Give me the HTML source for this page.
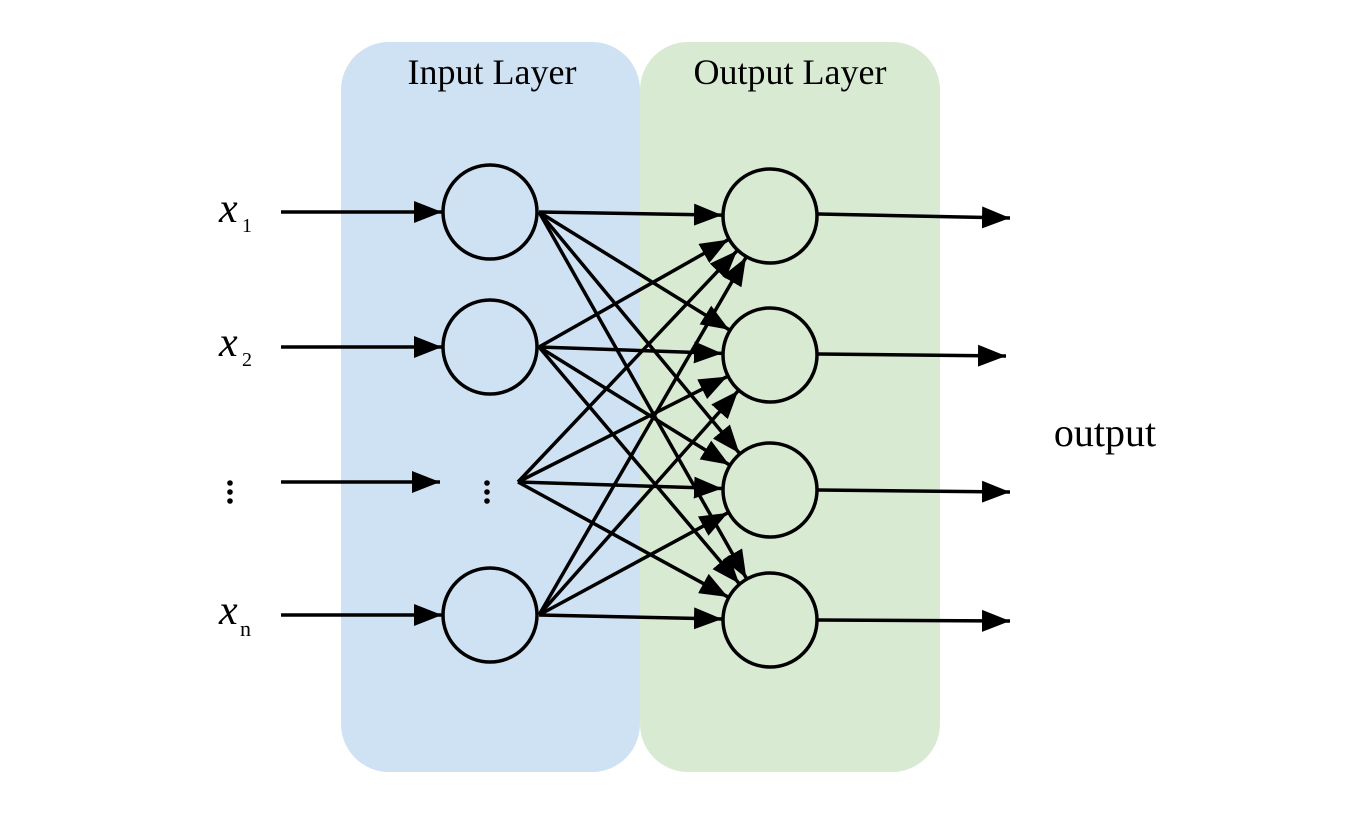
<!DOCTYPE html>
<html><head><meta charset="utf-8"><style>
html,body{margin:0;padding:0;background:#fff;}
svg{display:block}
</style></head><body>
<svg id="s" width="1362" height="815" xmlns="http://www.w3.org/2000/svg">
<defs>
<marker id="a" markerUnits="userSpaceOnUse" markerWidth="28" markerHeight="22" refX="28" refY="11" orient="auto">
<path d="M0,0 L28,11 L0,22 Z" fill="#000"/>
</marker>
</defs>
<rect x="341" y="42" width="299" height="730" rx="48" fill="#cfe2f3"/>
<rect x="640" y="42" width="300" height="730" rx="48" fill="#d9ead3"/>
<text x="492" y="84" font-family="Liberation Serif, serif" font-size="36" text-anchor="middle">Input Layer</text>
<text x="790" y="84" font-family="Liberation Serif, serif" font-size="36" text-anchor="middle">Output Layer</text>
<text x="1105" y="446" font-family="Liberation Serif, serif" font-size="40" text-anchor="middle">output</text>
<g font-family="Liberation Serif, serif" fill="#000">
<text x="219" y="222" font-size="42" font-style="italic">x</text><text x="242" y="232" font-size="20">1</text>
<text x="219" y="356" font-size="42" font-style="italic">x</text><text x="242" y="366" font-size="20">2</text>
<text x="219" y="624" font-size="42" font-style="italic">x</text><text x="240" y="636" font-size="22">n</text>
</g>
<g fill="#000">
<circle cx="230" cy="483" r="2.8"/><circle cx="230" cy="492" r="2.8"/><circle cx="230" cy="501" r="2.8"/>
<circle cx="487" cy="483" r="2.8"/><circle cx="487" cy="492" r="2.8"/><circle cx="487" cy="501" r="2.8"/>
</g>
<g id="lines" stroke="#000" stroke-width="3.5" fill="none"></g>
<g stroke="#000" stroke-width="3.5">
<circle cx="490" cy="212" r="47" fill="#cfe2f3"/>
<circle cx="490" cy="347" r="47" fill="#cfe2f3"/>
<circle cx="490" cy="615" r="47" fill="#cfe2f3"/>
<circle cx="770" cy="216" r="47" fill="#d9ead3"/>
<circle cx="770" cy="355" r="47" fill="#d9ead3"/>
<circle cx="770" cy="490" r="47" fill="#d9ead3"/>
<circle cx="770" cy="620" r="47" fill="#d9ead3"/>
</g>
</svg>
<script>
var g=document.getElementById('lines'),NS='http://www.w3.org/2000/svg';
function L(x1,y1,x2,y2){var l=document.createElementNS(NS,'line');l.setAttribute('x1',x1);l.setAttribute('y1',y1);l.setAttribute('x2',x2);l.setAttribute('y2',y2);l.setAttribute('marker-end','url(#a)');g.appendChild(l);}
var src=[[539,212],[539,347],[518,482],[539,615]];
var tg=[[770,216],[770,355],[770,490],[770,620]];
src.forEach(function(s){tg.forEach(function(t){var dx=t[0]-s[0],dy=t[1]-s[1],d=Math.hypot(dx,dy),r=48;L(s[0],s[1],t[0]-dx/d*r,t[1]-dy/d*r);});});
L(281,212,442,212);L(281,347,442,347);L(281,482,440,482);L(281,615,442,615);
L(818,214,1010,218);L(818,354,1006,356);L(818,490,1010,492);L(818,620,1010,621);
</script>
</body></html>
